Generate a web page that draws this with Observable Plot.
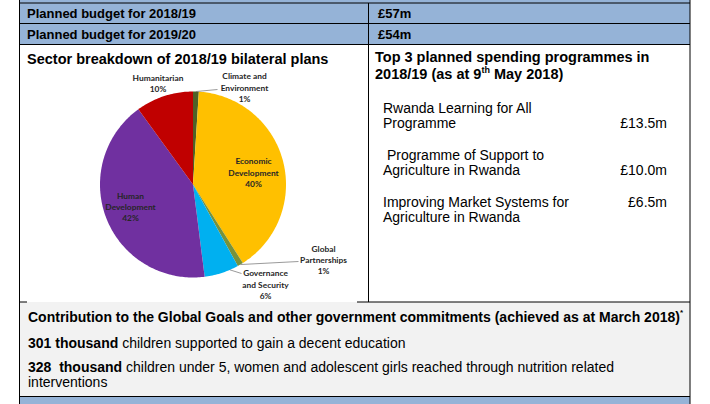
<!DOCTYPE html>
<html>
<head>
<meta charset="utf-8">
<script src="https://cdn.jsdelivr.net/npm/d3@7"></script>
<script src="https://cdn.jsdelivr.net/npm/@observablehq/plot@0.6"></script>
<style>
  html, body { margin: 0; padding: 0; background: #fff; }
  #page { position: relative; width: 710px; height: 404px; overflow: hidden; background: #fff; }
  #frame { position: absolute; left: 0; top: 0; }
  #pie { position: absolute; left: 27px; top: 68px; }
  #frame text { font-family: "Liberation Sans", Arial, sans-serif; fill: #000; white-space: pre; }
</style>
</head>
<body>
<div id="page">
  <svg id="frame" width="710" height="404"></svg>
  <div id="pie"></div>
</div>
<script>
// ---------- data ----------
const budgetLabels = ["Planned budget for 2018/19", "Planned budget for 2019/20"];
const budgetValues = ["£57m", "£54m"];

const pieTitle = "Sector breakdown of 2018/19 bilateral plans";
const sectors = ["Climate and Environment", "Economic Development", "Global Partnerships",
                 "Governance and Security", "Human Development", "Humanitarian"];
const shares = [1, 40, 1, 6, 42, 10];
const sectorColors = ["#4f6228", "#ffc000", "#76923c", "#00b0f0", "#7030a0", "#c00000"];

const topTitle1 = "Top 3 planned spending programmes in";
const topTitle2a = "2018/19 (as at 9", topTitle2sup = "th", topTitle2b = " May 2018)";
const programmeLines = [["Rwanda Learning for All", "Programme"],
                        [" Programme of Support to", "Agriculture in Rwanda"],
                        ["Improving Market Systems for", "Agriculture in Rwanda"]];
const programmeSpend = ["£13.5m", "£10.0m", "£6.5m"];

const goalsTitle = "Contribution to the Global Goals and other government commitments (achieved as at March 2018)";
const goalFigures = ["301 thousand", "328  thousand"];
const goalTexts = [[" children supported to gain a decent education"],
                   [" children under 5, women and adolescent girls reached through nutrition related", "interventions"]];

// ---------- frame (table) ----------
const blue = "#95b3d7", gray = "#f2f2f2";
const L = 19.5, R = 690, MID = 368.5;
const svg = d3.select("#frame");
const rect = (x, y, w, h, c) => svg.append("rect").attr("x", x).attr("y", y).attr("width", w).attr("height", h).attr("fill", c);
const line = (x1, y1, x2, y2) => svg.append("line").attr("x1", x1).attr("y1", y1).attr("x2", x2).attr("y2", y2)
  .attr("stroke", "#000").attr("stroke-width", 1);

rect(L, 0, R - L, 44.5, blue);
rect(L, 302, R - L, 94, gray);
rect(L, 396.5, R - L, 8, blue);

[3, 23.5, 44.5, 396.5].forEach(y => line(L, y, R, y));
line(L, 302, 27, 302);
line(357, 302, R, 302);
line(L, 0, L, 404);
line(R, 0, R, 404);
line(MID, 3, MID, 302);

const text = (x, y, size, weight) => svg.append("text").attr("x", x).attr("y", y)
  .attr("font-size", size).attr("font-weight", weight);

budgetLabels.forEach((t, i) => {
  text(27, 18 + i * 21, 13, "bold").text(t);
  text(378, 18 + i * 21, 13, "bold").text(budgetValues[i]);
});

text(27, 64, 14.5, "bold").text(pieTitle);

text(375, 62, 14.5, "bold").text(topTitle1);
const t2 = text(375, 79, 14.5, "bold");
t2.append("tspan").text(topTitle2a);
t2.append("tspan").attr("font-size", 9).attr("dy", -6).text(topTitle2sup);
t2.append("tspan").attr("dy", 6).text(topTitle2b);

const progBase = [113, 160, 207];
const spendLine = [1, 1, 0];
programmeLines.forEach((lines, i) => {
  lines.forEach((ln, j) => text(383, progBase[i] + j * 15, 14, "normal").text(ln));
  text(667, progBase[i] + spendLine[i] * 15, 14, "normal").attr("text-anchor", "end").text(programmeSpend[i]);
});

const gt = text(28, 322, 14, "bold");
gt.append("tspan").text(goalsTitle);
gt.append("tspan").attr("font-size", 8).attr("dy", -7).text("*");

const goalBase = [348, 372];
goalFigures.forEach((fig, i) => {
  const tt = text(28, goalBase[i], 14, "normal");
  tt.append("tspan").attr("font-weight", "bold").text(fig);
  tt.append("tspan").text(goalTexts[i][0]);
  goalTexts[i].slice(1).forEach((ln, j) => text(28, goalBase[i] + 15 * (j + 1), 14, "normal").text(ln));
});

// ---------- pie (Observable Plot) ----------
const cx = 192.5, cy = 184, r = 93;
const rows = sectors.map((s, i) => ({sector: s, share: shares[i]}));
const arcs = d3.pie().sort(null).value(d => d.share).startAngle(0).endAngle(2 * Math.PI)(rows);
const pt = (a, rr) => ({x: cx + rr * Math.sin(a), y: cy - rr * Math.cos(a)});

const polys = [];
arcs.forEach(a => {
  const s = a.data.sector;
  polys.push({sector: s, ...pt(0, 0)});
  const n = Math.max(2, Math.ceil((a.endAngle - a.startAngle) / (Math.PI / 180)));
  for (let k = 0; k <= n; k++) {
    const ang = a.startAngle + (a.endAngle - a.startAngle) * k / n;
    polys.push({sector: s, ...pt(ang, r)});
  }
  polys.push({sector: s, ...pt(0, 0)});
});

// label layout (positions in page pixels)
const wrap = {
  "Climate and Environment": "Climate and\nEnvironment",
  "Economic Development": "Economic\nDevelopment",
  "Global Partnerships": "Global\nPartnerships",
  "Governance and Security": "Governance\nand Security",
  "Human Development": "Human\nDevelopment",
  "Humanitarian": "Humanitarian"
};
const labelAt = {
  "Climate and Environment": [244, 86.5],
  "Economic Development": [253, 171.5],
  "Global Partnerships": [323, 259],
  "Governance and Security": [265, 283.5],
  "Human Development": [130, 206],
  "Humanitarian": [157.5, 82.5]
};
const leaderTo = {
  "Climate and Environment": {f: 0.5, to: [217, 89]},
  "Global Partnerships": {f: 0.5, to: [298, 261]},
  "Governance and Security": {f: 0.25, to: [241, 273]}
};

const labels = arcs.map(a => ({
  label: wrap[a.data.sector] + "\n" + Math.round(a.data.share) + "%",
  x: labelAt[a.data.sector][0], y: labelAt[a.data.sector][1]
}));
const leaders = arcs.filter(a => leaderTo[a.data.sector]).map(a => {
  const o = leaderTo[a.data.sector];
  const p = pt(a.startAngle + (a.endAngle - a.startAngle) * o.f, r);
  return {x1: p.x, y1: p.y, x2: o.to[0], y2: o.to[1]};
});

const chart = Plot.plot({
  width: 330,
  height: 234,
  margin: 0,
  style: {background: "transparent", fontFamily: "Lato, 'Open Sans', sans-serif", fontSize: "8.4px", overflow: "visible"},
  x: {domain: [27, 357], range: [0, 330], axis: null},
  y: {domain: [68, 302], range: [0, 234], axis: null},
  color: {domain: sectors, range: sectorColors},
  marks: [
    Plot.line(polys, {x: "x", y: "y", z: "sector", fill: "sector", stroke: "none"}),
    Plot.link(leaders, {x1: "x1", y1: "y1", x2: "x2", y2: "y2", stroke: "#808080", strokeWidth: 0.8}),
    Plot.text(labels, {x: "x", y: "y", text: "label", fontWeight: "bold", fill: "#262626",
      lineHeight: 1.35, textAnchor: "middle", lineAnchor: "middle", fontSize: 8.4})
  ]
});
document.getElementById("pie").appendChild(chart);
</script>
</body>
</html>
